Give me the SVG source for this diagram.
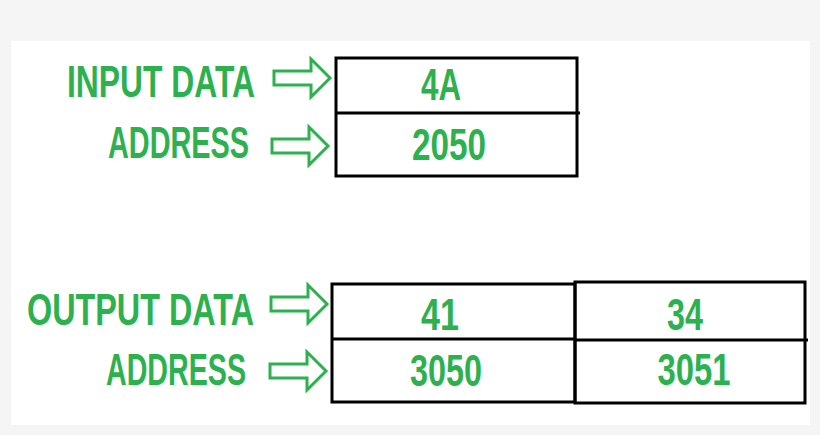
<svg xmlns="http://www.w3.org/2000/svg" width="820" height="435" viewBox="0 0 820 435">
<defs>
<style>
.t{font-family:"Liberation Sans",Arial,sans-serif;font-weight:bold;fill:#2db14e;font-size:44px}
.c{text-anchor:middle}
.b{fill:none;stroke:#000;stroke-width:3}
.a{fill:none;stroke:#2db14e;stroke-width:3;stroke-linejoin:miter}
</style>
<path id="arr" d="M0,-7 H37 V-19 L56,0 L37,19 V7 H0 Z"/>
</defs>
<rect width="820" height="435" fill="#f5f5f5"/>
<rect x="11" y="41" width="799" height="384" fill="#fff"/>
<g id="labels">
<text class="t" x="67" y="97" textLength="188" lengthAdjust="spacingAndGlyphs">INPUT DATA</text>
<text class="t" x="108" y="158" textLength="141" lengthAdjust="spacingAndGlyphs">ADDRESS</text>
<text class="t" x="27" y="325" textLength="227" lengthAdjust="spacingAndGlyphs">OUTPUT DATA</text>
<text class="t" x="106" y="385" textLength="140" lengthAdjust="spacingAndGlyphs">ADDRESS</text>
</g>
<g id="connectors">
<use href="#arr" class="a" x="274" y="78"/>
<use href="#arr" class="a" x="272" y="146"/>
<use href="#arr" class="a" x="271" y="304"/>
<use href="#arr" class="a" x="270" y="371"/>
</g>
<g id="input-box">
<rect class="b" x="336" y="58" width="241" height="118"/>
<line class="b" x1="336" y1="113" x2="580" y2="113"/>
<text class="t c" x="441" y="100" textLength="40" lengthAdjust="spacingAndGlyphs">4A</text>
<text class="t c" x="449" y="160" textLength="74" lengthAdjust="spacingAndGlyphs">2050</text>
</g>
<g id="output-box-1">
<rect class="b" x="332" y="284" width="243" height="118"/>
<line class="b" x1="332" y1="339" x2="575" y2="339"/>
<text class="t c" x="440" y="330" textLength="38" lengthAdjust="spacingAndGlyphs">41</text>
<text class="t c" x="446" y="386" textLength="72" lengthAdjust="spacingAndGlyphs">3050</text>
</g>
<g id="output-box-2">
<rect class="b" x="575" y="282" width="230" height="121"/>
<line class="b" x1="575" y1="340" x2="808" y2="340"/>
<text class="t c" x="685" y="330" textLength="36" lengthAdjust="spacingAndGlyphs">34</text>
<text class="t c" x="694" y="385" textLength="73" lengthAdjust="spacingAndGlyphs">3051</text>
</g>
</svg>
